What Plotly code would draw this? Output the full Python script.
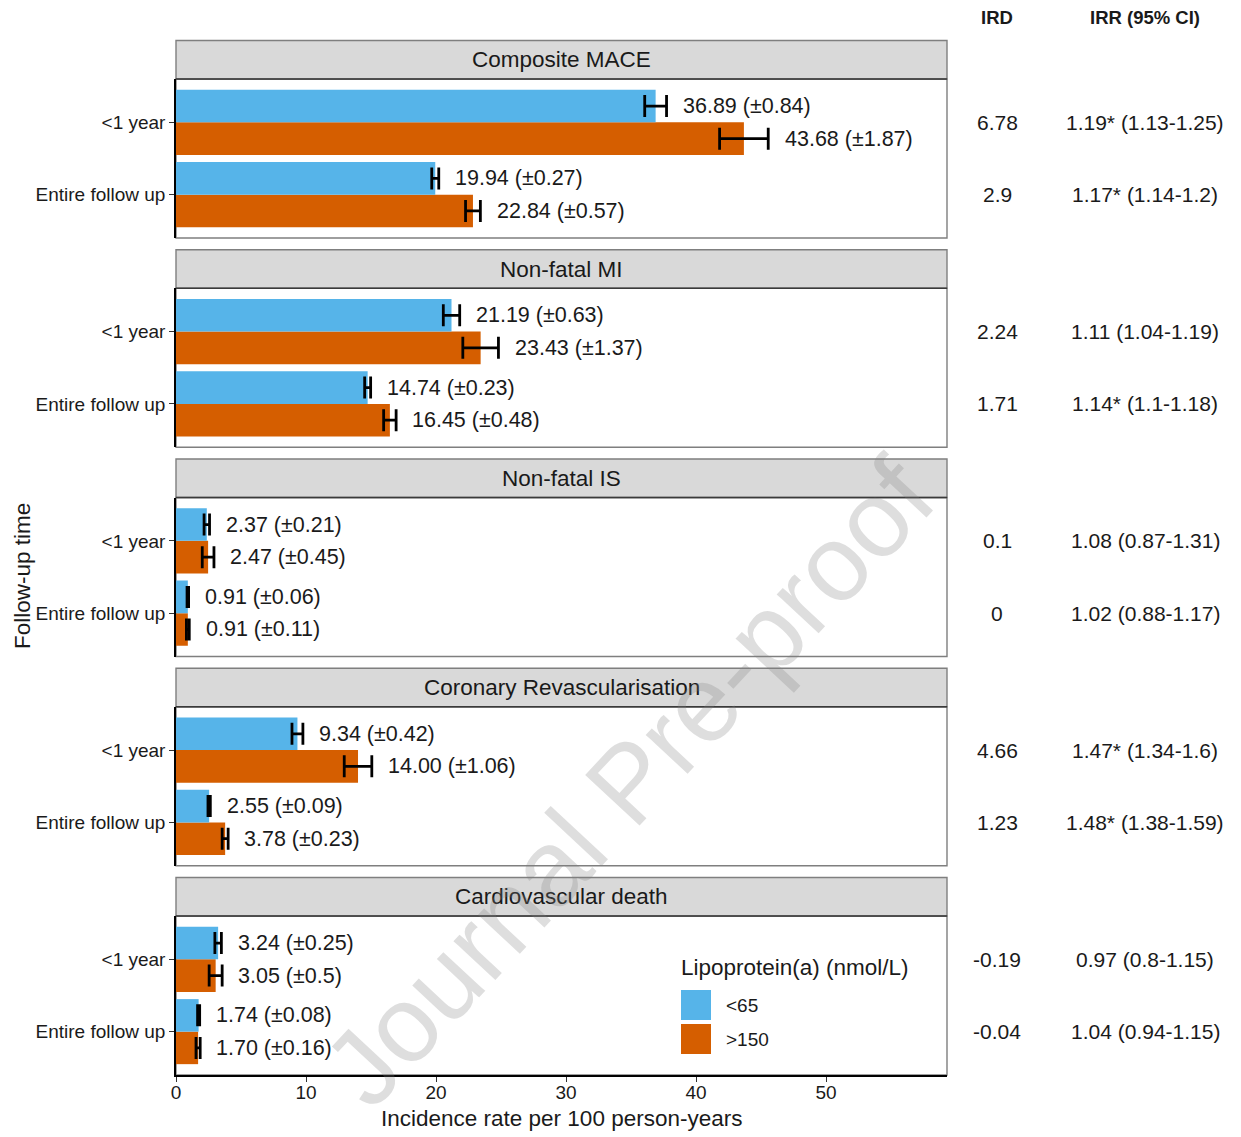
import plotly.graph_objects as go

# ---------------- data ----------------
outcomes = ["Composite MACE", "Non-fatal MI", "Non-fatal IS",
            "Coronary Revascularisation", "Cardiovascular death"]
periods = ["<1 year", "Entire follow up"]
groups = ["<65", ">150"]

low_rate = [[36.89, 19.94], [21.19, 14.74], [2.37, 0.91], [9.34, 2.55], [3.24, 1.74]]
low_se = [[0.84, 0.27], [0.63, 0.23], [0.21, 0.06], [0.42, 0.09], [0.25, 0.08]]
high_rate = [[43.68, 22.84], [23.43, 16.45], [2.47, 0.91], [14.00, 3.78], [3.05, 1.70]]
high_se = [[1.87, 0.57], [1.37, 0.48], [0.45, 0.11], [1.06, 0.23], [0.5, 0.16]]

ird = [["6.78", "2.9"], ["2.24", "1.71"], ["0.1", "0"], ["4.66", "1.23"], ["-0.19", "-0.04"]]
irr = [["1.19* (1.13-1.25)", "1.17* (1.14-1.2)"],
       ["1.11 (1.04-1.19)", "1.14* (1.1-1.18)"],
       ["1.08 (0.87-1.31)", "1.02 (0.88-1.17)"],
       ["1.47* (1.34-1.6)", "1.48* (1.38-1.59)"],
       ["0.97 (0.8-1.15)", "1.04 (0.94-1.15)"]]

x_ticks = [0, 10, 20, 30, 40, 50]
x_title = "Incidence rate per 100 person-years"
y_title = "Follow-up time"
legend_title = "Lipoprotein(a) (nmol/L)"
col_headers = ["IRD", "IRR (95% CI)"]
watermark = "Journal Pre-proof"

# ---------------- style ----------------
OFF = 8                       # page body margin of the html page
W, H = 1241 - OFF, 1137 - OFF
ML, MT = 176 - OFF, 40 - OFF
MR, MB = 1241 - 947, 1137 - 1075
PW, PH = W - ML - MR, H - MT - MB
C_LOW = "#56B4E9"
C_HIGH = "#D55E00"
FONT = "Liberation Sans, Arial, sans-serif"
TXT = "#1a1a1a"
BORDER = "#7f7f7f"
X_MAX = 59.3
PERIOD = 209.25
PANEL_H = 159
STRIP_H = 38.5


def py(px):
    """reference-image pixel y -> paper y"""
    return (1075 - px) / PH


def pxx(px):
    """reference-image pixel x -> paper x"""
    return (px - 176) / PW


fig = go.Figure()
layout = dict(width=W, height=H, margin=dict(l=ML, r=MR, t=MT, b=MB),
              paper_bgcolor="white", plot_bgcolor="white", showlegend=False,
              barmode="group", bargap=0.1, bargroupgap=0,
              font=dict(family=FONT, color=TXT))
shapes, annotations = [], []

unit_px = PANEL_H / 2.2
shift = 0.225 * unit_px

for k, name in enumerate(outcomes):
    n = k + 1
    xa, ya = ("x" if n == 1 else f"x{n}"), ("y" if n == 1 else f"y{n}")
    bottom_px = 1075 - (4 - k) * PERIOD
    top_px = bottom_px - PANEL_H
    d0, d1 = py(bottom_px), py(top_px)
    last = (k == len(outcomes) - 1)

    layout["xaxis" if n == 1 else f"xaxis{n}"] = dict(
        domain=[0, 1], range=[0, X_MAX], anchor=ya, tickvals=x_ticks,
        showticklabels=last, ticks="outside" if last else "", ticklen=5,
        tickcolor="#333", tickwidth=1.2, showgrid=False, zeroline=False,
        showline=last, linecolor="black", linewidth=1.5,
        ticklabelstandoff=-6,
        tickfont=dict(size=19, color=TXT),
        **({} if n == 1 else {"matches": "x"}))
    layout["yaxis" if n == 1 else f"yaxis{n}"] = dict(
        domain=[d0, d1], anchor=xa, type="category",
        categoryorder="array", categoryarray=periods[::-1],
        range=[-0.6, 1.6], ticks="outside", ticklen=5, tickcolor="#333",
        tickwidth=1.2, showgrid=False, zeroline=False,
        showline=True, linecolor="black", linewidth=1.5,
        tickfont=dict(size=19, color=TXT))

    # bars: >150 first (bottom of group), <65 second (top of group)
    fig.add_trace(go.Bar(
        x=high_rate[k], y=periods, orientation="h", name=groups[1],
        marker=dict(color=C_HIGH, line=dict(width=0)),
        error_x=dict(type="data", array=high_se[k], color="black",
                     thickness=2.8, width=11),
        xaxis=xa, yaxis=ya, hoverinfo="skip"))
    fig.add_trace(go.Bar(
        x=low_rate[k], y=periods, orientation="h", name=groups[0],
        marker=dict(color=C_LOW, line=dict(width=0)),
        error_x=dict(type="data", array=low_se[k], color="black",
                     thickness=2.8, width=11),
        xaxis=xa, yaxis=ya, hoverinfo="skip"))

    # value labels
    for j, per in enumerate(periods):
        for rate, se, ys in ((low_rate[k][j], low_se[k][j], shift),
                             (high_rate[k][j], high_se[k][j], -shift)):
            annotations.append(dict(
                x=rate + se + 1.1, y=per, xref=xa, yref=ya, yshift=ys,
                text=f"{rate:.2f} (±{se:g})", showarrow=False,
                xanchor="left", yanchor="middle",
                font=dict(size=21.5, color=TXT)))
        # IRD / IRR columns
        annotations.append(dict(x=pxx(997), y=per, xref="paper", yref=ya,
                                text=ird[k][j], showarrow=False,
                                xanchor="center", yanchor="middle",
                                font=dict(size=21, color=TXT)))
        annotations.append(dict(x=pxx(1145), y=per, xref="paper", yref=ya,
                                text=irr[k][j], showarrow=False,
                                xanchor="center", yanchor="middle",
                                font=dict(size=21, color=TXT)))

    # panel border
    shapes.append(dict(type="rect", xref="paper", yref="paper",
                       x0=0, x1=1, y0=d0, y1=d1,
                       line=dict(color=BORDER, width=1.4), layer="below"))
    # strip
    s1 = py(top_px - STRIP_H)
    shapes.append(dict(type="rect", xref="paper", yref="paper",
                       x0=0, x1=1, y0=d1, y1=s1, fillcolor="#d9d9d9",
                       line=dict(color=BORDER, width=1.4), layer="below"))
    shapes.append(dict(type="line", xref="paper", yref="paper",
                       x0=0, x1=1, y0=d1, y1=d1,
                       line=dict(color="#3a3a3a", width=1.6)))
    annotations.append(dict(x=0.5, y=(d1 + s1) / 2, xref="paper", yref="paper",
                            text=name, showarrow=False, xanchor="center",
                            yanchor="middle", font=dict(size=22.5, color=TXT)))

# column headers
for txt, xp in zip(col_headers, (997, 1145)):
    annotations.append(dict(x=pxx(xp), y=py(18), xref="paper", yref="paper",
                            text=f"<b>{txt}</b>", showarrow=False,
                            xanchor="center", yanchor="middle",
                            font=dict(size=18.5, color=TXT)))

# axis titles
annotations.append(dict(x=0.5, y=py(1118), xref="paper", yref="paper",
                        text=x_title, showarrow=False, xanchor="center",
                        yanchor="middle", font=dict(size=22.5, color=TXT)))
annotations.append(dict(x=pxx(22), y=py(576), xref="paper", yref="paper",
                        text=y_title, showarrow=False, textangle=-90,
                        xanchor="center", yanchor="middle",
                        font=dict(size=22.5, color=TXT)))

# legend (drawn)
annotations.append(dict(x=pxx(679), y=py(967), xref="paper", yref="paper",
                        text=legend_title, showarrow=False, xanchor="left",
                        yanchor="middle", font=dict(size=22.5, color=TXT)))
for lab, col, top in ((groups[0], C_LOW, 990), (groups[1], C_HIGH, 1024)):
    shapes.append(dict(type="rect", xref="paper", yref="paper",
                       x0=pxx(681), x1=pxx(711), y0=py(top + 30), y1=py(top),
                       fillcolor=col, line=dict(width=0)))
    annotations.append(dict(x=pxx(724), y=py(top + 15), xref="paper",
                            yref="paper", text=lab, showarrow=False,
                            xanchor="left", yanchor="middle",
                            font=dict(size=19, color=TXT)))

# watermark
annotations.append(dict(x=pxx(628), y=py(782), xref="paper", yref="paper",
                        text=watermark, showarrow=False, textangle=-47,
                        xanchor="center", yanchor="middle",
                        font=dict(size=108, color="rgba(128,128,128,0.26)")))

layout["shapes"] = shapes
layout["annotations"] = annotations
fig.update_layout(**layout)
fig.write_html("out.html")
